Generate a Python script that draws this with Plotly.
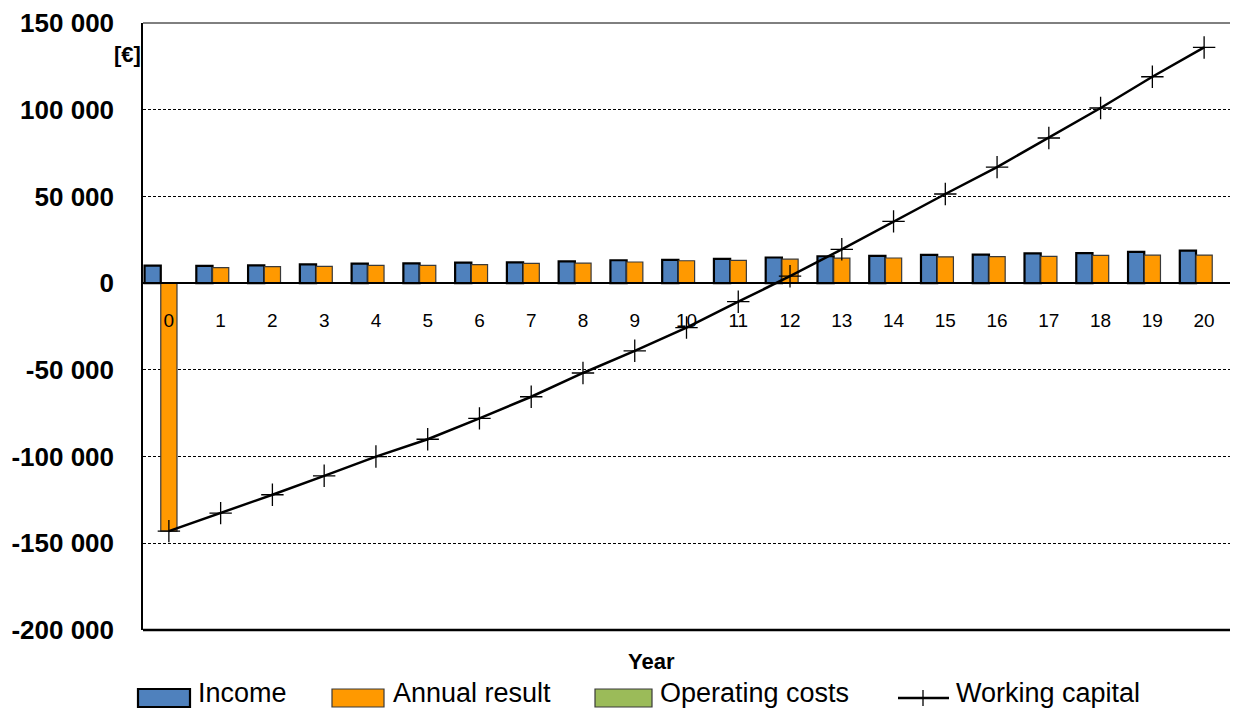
import plotly.graph_objects as go

# ---- data -------------------------------------------------------------
years = list(range(21))
income = [10100, 10000, 10300, 10800, 11300, 11400, 11800, 12000, 12600, 13200,
          13400, 14000, 14800, 15500, 15700, 16300, 16500, 17200, 17300, 18000, 18700]
annual_result = [-143000, 9000, 9500, 9700, 10200, 10300, 10700, 11400, 11500, 12200,
                 12900, 13100, 13800, 14400, 14500, 15200, 15300, 15400, 16000, 16100, 16200]
operating_costs = [0] * 21
working_capital = [-143000, -132600, -122000, -111100, -100000, -90000, -78000, -65500,
                   -51800, -39000, -25600, -10700, 4000, 19500, 35600, 51400, 66900,
                   83700, 101000, 119000, 135900]

y_ticks = [-200000, -150000, -100000, -50000, 0, 50000, 100000, 150000]
y_tick_text = ["-200 000", "-150 000", "-100 000", "-50 000", "0", "50 000", "100 000", "150 000"]

series_names = ["Income", "Annual result", "Operating costs", "Working capital"]
colors = {"Income": "#4F81BD", "Annual result": "#FF9900", "Operating costs": "#9BBB59"}

FONT = "Liberation Sans, Arial, sans-serif"

W, H = 1236, 710
L, R, T, B = 143, 6, 23, 80
PW, PH = W - L - R, H - T - B


def px_x(p):
    return (p - L) / PW


def px_y(p):
    return (H - B - p) / PH


fig = go.Figure()
fig.add_trace(go.Bar(x=years, y=income, name=series_names[0],
                     marker=dict(color=colors["Income"], line=dict(color="black", width=2.2)),
                     showlegend=False))
fig.add_trace(go.Bar(x=years, y=annual_result, name=series_names[1],
                     marker=dict(color=colors["Annual result"], line=dict(color="#3a3a3a", width=1.2)),
                     showlegend=False))
fig.add_trace(go.Bar(x=years, y=operating_costs, name=series_names[2],
                     marker=dict(color=colors["Operating costs"], line=dict(color="black", width=1.5)),
                     showlegend=False))
fig.add_trace(go.Scatter(x=years, y=working_capital, name=series_names[3], mode="lines+markers",
                         line=dict(color="black", width=2.5),
                         marker=dict(symbol="cross-thin", size=16, line=dict(color="black", width=1.3)),
                         showlegend=False))

zero_pos = (0 - y_ticks[0]) / (y_ticks[-1] - y_ticks[0])

fig.update_layout(
    width=W, height=H,
    margin=dict(l=L, r=R, t=T, b=B, autoexpand=False),
    paper_bgcolor="white", plot_bgcolor="white",
    barmode="group", bargap=0.06, bargroupgap=0,
    font=dict(family=FONT, color="black"),
    xaxis=dict(
        range=[-0.5, 20.5], tickmode="array", tickvals=years,
        ticks="", showgrid=False, zeroline=False,
        anchor="free", position=zero_pos,
        showline=True, linecolor="black", linewidth=2,
        tickfont=dict(size=19, family=FONT), ticklabelstandoff=20,
        automargin=False,
    ),
    yaxis=dict(
        range=[y_ticks[0], y_ticks[-1]], tickmode="array", tickvals=y_ticks, ticktext=y_tick_text,
        ticks="outside", ticklen=22, tickcolor="rgba(0,0,0,0)",
        showgrid=True, gridcolor="black", gridwidth=1, griddash="3px,2px",
        zeroline=False, showline=True, linecolor="black", linewidth=1.5,
        tickfont=dict(size=26, family=FONT, weight="bold"),
        automargin=False,
    ),
)

# plot frame: thin top edge, heavy bottom edge
fig.add_shape(type="line", xref="paper", yref="paper", x0=0, x1=1, y0=1, y1=1,
              line=dict(color="black", width=1))
fig.add_shape(type="line", xref="paper", yref="paper", x0=0, x1=1, y0=0, y1=0,
              line=dict(color="black", width=2.5))

# unit and axis title
fig.add_annotation(text="<b>[€]</b>", xref="paper", yref="paper", x=0, y=px_y(55),
                   xanchor="right", yanchor="middle", showarrow=False,
                   font=dict(size=22, family=FONT))
fig.add_annotation(text="<b>Year</b>", xref="paper", yref="paper", x=px_x(651), y=px_y(661),
                   xanchor="center", yanchor="middle", showarrow=False,
                   font=dict(size=22, family=FONT))

# legend row
legend_y = 693
swatches = [("Income", 138, 190, 196, "black", 2.2),
            ("Annual result", 332, 384, 391, "#3a3a3a", 1.2),
            ("Operating costs", 595, 652, 658, "#3a3a3a", 1.2)]
for name, x0, x1, tx, lc, lw in swatches:
    fig.add_shape(type="rect", xref="paper", yref="paper",
                  x0=px_x(x0), x1=px_x(x1), y0=px_y(689), y1=px_y(707),
                  fillcolor=colors[name], line=dict(color=lc, width=lw))
    fig.add_annotation(text=name, xref="paper", yref="paper", x=px_x(tx), y=px_y(legend_y),
                       xanchor="left", yanchor="middle", showarrow=False,
                       font=dict(size=27, family=FONT))
fig.add_shape(type="line", xref="paper", yref="paper", x0=px_x(898), x1=px_x(949),
              y0=px_y(698), y1=px_y(698), line=dict(color="black", width=2.5))
fig.add_shape(type="line", xref="paper", yref="paper", x0=px_x(923), x1=px_x(923),
              y0=px_y(690), y1=px_y(706), line=dict(color="black", width=1.3))
fig.add_annotation(text=series_names[3], xref="paper", yref="paper", x=px_x(954), y=px_y(legend_y),
                   xanchor="left", yanchor="middle", showarrow=False,
                   font=dict(size=27, family=FONT))

fig.write_html("out.html")
